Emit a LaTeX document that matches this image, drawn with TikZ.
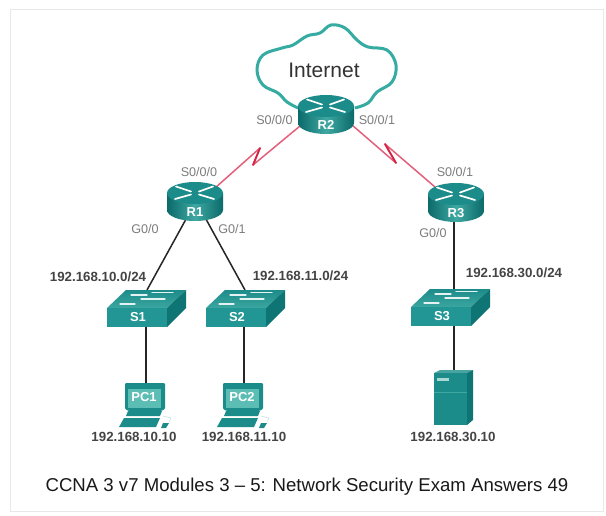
\documentclass[tikz,border=0pt]{standalone}
\usepackage{fontspec}
\setmainfont{Liberation Sans}
\definecolor{tealtop}{HTML}{1C8C8A}
\definecolor{tealdark}{HTML}{0B6A6A}
\definecolor{tealmid}{HTML}{219694}
\definecolor{tealside}{HTML}{0F7474}
\definecolor{teallite}{HTML}{3FA8A2}
\definecolor{screenc}{HTML}{5CBDB4}
\definecolor{cloudc}{HTML}{35ABA2}
\definecolor{serialc}{HTML}{E4607A}
\definecolor{spikec}{HTML}{D42344}
\definecolor{grayt}{HTML}{7C7C7C}
\definecolor{boldt}{HTML}{444444}
\tikzset{
  x=1pt,y=-1pt,
  ifname/.style={text=grayt,font=\fontsize{12.6}{14}\selectfont,inner sep=0pt},
  netname/.style={text=boldt,font=\fontsize{13.3}{15}\selectfont\bfseries,inner sep=0pt},
  devname/.style={text=white,font=\fontsize{13}{15}\selectfont\bfseries,inner sep=0pt},
  serialline/.style={draw=serialc,line width=1.5pt,line join=bevel},
  spike/.style={draw=spikec,line width=1.8pt,line cap=round},
  lanline/.style={draw=black!85,line width=1.5pt},
  glyph/.style={draw=white,line width=1.7pt,line cap=round},
}
\newcommand{\routericon}[3]{%
  \begin{scope}[shift={(#1,#2)}]
    \path[left color=tealdark,right color=tealdark,middle color=teallite]
      (-28,11) -- (-28,28) arc[start angle=180,end angle=360,x radius=28pt,y radius=11pt] -- (28,11) -- cycle;
    \fill[tealtop] (0,11) ellipse[x radius=28pt,y radius=11pt];
    \draw[glyph] (-19,4.5) -- (-4,9.5) (19,17) -- (4,12.5) (18,4.5) -- (4,9.5) (-20,17) -- (-4,12.5);
    \node[devname] at (0,30) {#3};
  \end{scope}}
\newcommand{\switchicon}[3]{%
  \begin{scope}[shift={(#1,#2)}]
    \path[top color=tealtop,bottom color=teallite!90!tealtop] (0,0) -- (19,-18) -- (79,-18) -- (60,0) -- cycle;
    \fill[tealside] (60,0) -- (79,-18) -- (79,0) -- (60,19) -- cycle;
    \fill[tealmid] (0,0) rectangle (60,19);
    \draw[white!90!teal,line width=1.2pt,line cap=round]
      (13,-4) -- (28,-4) (34,-9) -- (58,-9) (24,-13) -- (40,-13) (45,-15.5) -- (66,-15.5);
    \node[devname] at (31,9.5) {#3};
  \end{scope}}
\newcommand{\pcicon}[3]{%
  \begin{scope}[shift={(#1,#2)}]
    \fill[tealtop,rounded corners=1pt] (0,1) -- (40,1) -- (40,27) -- (36,29) -- (4,29) -- (0,27) -- cycle;
    \fill[screenc] (3,7) rectangle (36,26);
    \node[devname] at (19,15.5) {#3};
    \fill[tealtop] (3,29) -- (37,29) -- (35,34) -- (1,34) -- cycle;
    \fill[tealtop] (-1,36) -- (35,36) -- (31,45) -- (-6,45) -- cycle;
    \fill[tealtop] (38,41) -- (44,41) -- (41,46) -- (36,46) -- cycle;
    \draw[teallite!30!white,line width=.6pt] (38,34) -- (46,36) -- (44,40);
  \end{scope}}
\newcommand{\servericon}[2]{%
  \begin{scope}[shift={(#1,#2)}]
    \fill[tealtop!80!white] (0,3) -- (6,0) -- (39,0) -- (33,3) -- cycle;
    \fill[tealside] (33,3) -- (39,0) -- (39,50) -- (33,55) -- cycle;
    \fill[tealtop] (0,3) rectangle (33,55);
    \fill[teallite!45!white] (3,8) rectangle (15,11);
    \draw[teallite,line width=.5pt] (0,22) -- (33,22);
  \end{scope}}
\begin{document}
\begin{tikzpicture}
\useasboundingbox (0,0) rectangle (606,515);
\fill[white] (0,0) rectangle (606,515);
\draw[black!9,line width=.8pt] (10,9) rectangle (603,511);

% cloud
\draw[cloudc,line width=3pt,fill=white,line join=round] plot[smooth,tension=.62] coordinates {
 (298,108) (287,102) (278,93) (263,85) (257,70) (263,55) (282,48) (293,45) (307,36) (320,33)
 (331,25) (345,28) (357,40) (368,47) (387,50) (396,65) (392,82) (377,92) (368,103) (355,108)};
\node[font=\fontsize{21}{23}\selectfont,text=black!80,inner sep=0pt] (inet) at (324,70) {Internet};

% anchors of the devices
\coordinate (R2w) at (300,126);
\coordinate (R2e) at (352,125);
\coordinate (R1s) at (215,188);
\coordinate (R3s) at (435,187);
\coordinate (R1) at (196,201);
\coordinate (R3b) at (454,215);
\coordinate (S1) at (147,290);
\coordinate (S2) at (245,290);
\coordinate (S3) at (454,290);
\coordinate (S1b) at (146,325);
\coordinate (S2b) at (244,325);
\coordinate (S3b) at (454,325);
\coordinate (PC1) at (146,383);
\coordinate (PC2) at (244,383);
\coordinate (Srv) at (454,371);
\coordinate (zaT) at (260,148);
\coordinate (zaB) at (253,165);
\coordinate (zbT) at (385,144);
\coordinate (zbB) at (396,163);

% connectors
\draw[serialline] (R1s) -- (zaT) -- (zaB) -- (R2w);
\draw[serialline] (R2e) -- (zbB) -- (zbT) -- (R3s);
\draw[spike] (zaT) -- (zaB);
\draw[spike] (zbT) -- (zbB);
\draw[lanline] (R1) -- (S1);
\draw[lanline] (R1) -- (S2);
\draw[lanline] (R3b) -- (S3);
\draw[lanline] (S1b) -- (PC1);
\draw[lanline] (S2b) -- (PC2);
\draw[lanline] (S3b) -- (Srv);

% devices
\routericon{326}{95}{R2}
\routericon{195}{182}{R1}
\routericon{456}{183}{R3}
\switchicon{107}{308}{S1}
\switchicon{206}{308}{S2}
\switchicon{411}{307}{S3}
\pcicon{125}{382}{PC1}
\pcicon{223}{382}{PC2}
\servericon{434}{370}

% labels
\node[ifname] (l1) at (274.5,120) {S0/0/0};
\node[ifname] (l2) at (377,120) {S0/0/1};
\node[ifname] (l3) at (199,172) {S0/0/0};
\node[ifname] (l4) at (455,172) {S0/0/1};
\node[ifname] (l5) at (145,229) {G0/0};
\node[ifname] (l6) at (232,229) {G0/1};
\node[ifname] (l7) at (433,233) {G0/0};
\node[netname] (n1) at (98,277) {192.168.10.0/24};
\node[netname] (n2) at (300.5,276) {192.168.11.0/24};
\node[netname] (n3) at (514,273) {192.168.30.0/24};
\node[netname] (a1) at (134,437) {192.168.10.10};
\node[netname] (a2) at (244,437) {192.168.11.10};
\node[netname] (a3) at (453,437) {192.168.30.10};
\node[font=\fontsize{18.6}{21}\selectfont,text=black!90,inner sep=0pt] (cap) at (307,487) {CCNA 3 v7 Modules 3 – 5: Network Security Exam Answers 49};
\end{tikzpicture}
\end{document}
